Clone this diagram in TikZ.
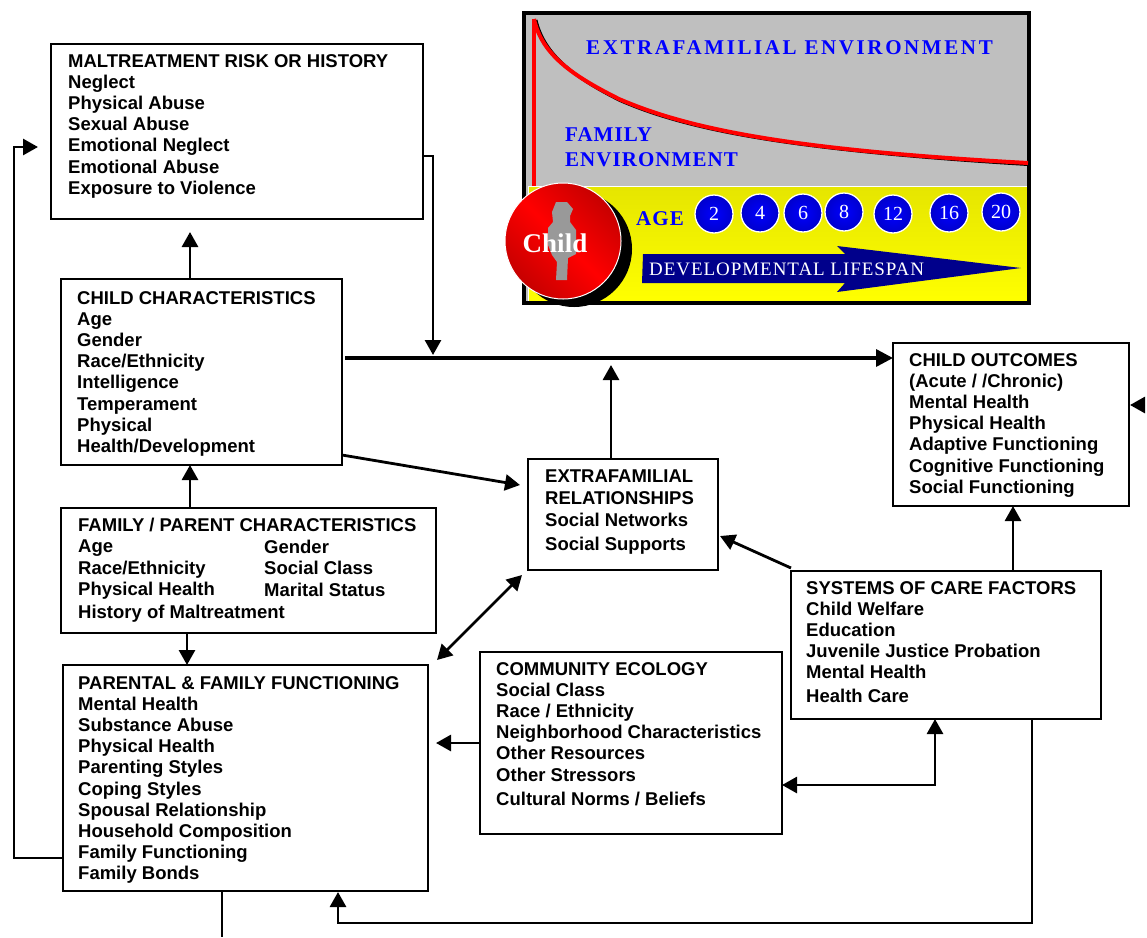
\documentclass[tikz,border=0pt]{standalone}
\usepackage{fontspec}
\setmainfont{Liberation Sans}
\newfontfamily\serA[LetterSpace=12.4]{Liberation Serif}
\newfontfamily\serB[LetterSpace=5]{Liberation Serif}
\newfontfamily\serC{Liberation Serif}
\usetikzlibrary{arrows.meta,calc}
\definecolor{panelgray}{HTML}{BFBFBF}
\definecolor{navy}{HTML}{00008B}
\tikzset{
 bx/.style={draw=black,line width=2.4pt,fill=white,anchor=north west,inner sep=0pt,outer sep=0pt},
 tx/.style={anchor=north west,inner sep=0pt,align=left,font=\fontsize{18.5}{21.2}\selectfont\bfseries},
 conn/.style={draw=black,line width=2.8pt},
 arr/.style={conn,-{Triangle[length=15pt,width=16pt]}},
 darr/.style={conn,{Triangle[length=15pt,width=16pt]}-{Triangle[length=15pt,width=16pt]}},
 agec/.style={circle,draw=white,line width=1.3pt,minimum size=38pt,inner sep=0pt,inner color=blue,outer color=blue!80!black,text=white,font=\fontsize{20}{20}\serC},
 bluet/.style={anchor=base west,inner sep=0pt,text=blue},
}
\begin{document}
\begin{tikzpicture}[x=1pt,y=-1pt]
\useasboundingbox (0,0) rectangle (1147,937);
\fill[white] (0,0) rectangle (1147,937);
% vertical guide positions for connectors
\coordinate (v14) at (14,0); \coordinate (v187) at (187,0); \coordinate (v190) at (190,0);
\coordinate (v222) at (222,0); \coordinate (v338) at (338,0); \coordinate (v433) at (433,0);
\coordinate (v611) at (611,0); \coordinate (v935) at (935,0); \coordinate (v1013) at (1013,0);
\coordinate (v1032) at (1032,0);
\coordinate (h147) at (0,147); \coordinate (h156) at (0,156); \coordinate (h358) at (0,358);
\coordinate (h455) at (0,455); \coordinate (h485) at (0,485); \coordinate (h536) at (0,536);
\coordinate (h568) at (0,568); \coordinate (h575) at (0,575); \coordinate (h743) at (0,743);
\coordinate (h785) at (0,785); \coordinate (h858) at (0,858); \coordinate (h923) at (0,923);
% boxes
\node[bx,minimum width=372pt,minimum height=175pt] (malt) at (51,44) {};
\node[bx,minimum width=281pt,minimum height=186pt] (child) at (61,279) {};
\node[bx,minimum width=375pt,minimum height=125pt] (fam) at (61,508) {};
\node[bx,minimum width=365pt,minimum height=226pt] (par) at (63,665) {};
\node[bx,minimum width=302pt,minimum height=182pt] (comm) at (480,652) {};
\node[bx,minimum width=310pt,minimum height=148pt] (sys) at (791,571) {};
\node[bx,minimum width=190pt,minimum height=111pt] (extra) at (528,459) {};
\node[bx,minimum width=236pt,minimum height=163pt] (out) at (893,343) {};
% box texts
\node[tx] (maltT) at (68,54) {MALTREATMENT RISK OR HISTORY\\Neglect\\Physical Abuse\\Sexual Abuse\\Emotional Neglect\\Emotional Abuse\\Exposure to Violence};
\node[tx] (childT) at (77,291) {CHILD CHARACTERISTICS\\Age\\Gender\\Race/Ethnicity\\Intelligence\\Temperament\\Physical\\Health/Development};
\node[tx] (famT) at (78,518) {FAMILY / PARENT CHARACTERISTICS};
\node[tx] (famA) at (78,540) {Age\\Race/Ethnicity\\Physical Health\\[2pt]History of Maltreatment};
\node[tx] (famB) at (264,540) {Gender\\Social Class\\Marital Status};
\node[tx] (parT) at (78,676) {PARENTAL \& FAMILY FUNCTIONING\\Mental Health\\Substance Abuse\\Physical Health\\Parenting Styles\\Coping Styles\\Spousal Relationship\\Household Composition\\Family Functioning\\Family Bonds};
\node[tx] (commT) at (496,662) {COMMUNITY ECOLOGY\\Social Class\\Race / Ethnicity\\Neighborhood Characteristics\\Other Resources\\Other Stressors\\[3.5pt]Cultural Norms / Beliefs};
\node[tx] (sysT) at (806,581) {SYSTEMS OF CARE FACTORS\\Child Welfare\\Education\\Juvenile Justice Probation\\Mental Health\\[2pt]Health Care};
\node[tx] (extraT) at (545,470) {EXTRAFAMILIAL\\RELATIONSHIPS\\[1.5pt]Social Networks\\[2.5pt]Social Supports};
\node[tx] (outT) at (909,353) {CHILD OUTCOMES\\(Acute / /Chronic)\\Mental Health\\Physical Health\\Adaptive Functioning\\Cognitive Functioning\\Social Functioning};
% connectors
\draw[arr,shorten >=13pt] (child.north -| v190) -- (malt.south -| v190);
\draw[arr] (fam.north -| v190) -- (child.south -| v190);
\draw[arr] (fam.south -| v187) -- (par.north -| v187);
\coordinate (tipL) at (38,147);
\draw[arr] (par.west |- h858) -- (v14 |- h858) -- (v14 |- h147) -- (tipL);
\coordinate (tipM) at (433,355);
\draw[arr] (malt.east |- h156) -- (v433 |- h156) -- (tipM);
\coordinate (mainS) at (345,358);
\draw[conn,line width=3.4pt,-{Triangle[length=17pt,width=17pt]}] (mainS) -- (out.west |- h358);
\coordinate (tipU) at (611,365);
\draw[arr] (extra.north -| v611) -- (tipU);
\coordinate (tipE) at (520,485);
\draw[arr] (child.east |- h455) -- (tipE);
\coordinate (dA) at (437,660); \coordinate (dB) at (522,575);
\draw[darr] (dA) -- (dB);
\coordinate (sA) at (791,568); \coordinate (sB) at (720,536);
\draw[arr] (sA) -- (sB);
\draw[arr] (sys.north -| v1013) -- (out.south -| v1013);
\coordinate (tipC) at (436,743);
\draw[arr] (comm.west |- h743) -- (tipC);
\draw[darr] (comm.east |- h785) -- (v935 |- h785) -- (sys.south -| v935);
\draw[arr,shorten >=1pt] (sys.south -| v1032) -- (v1032 |- h923) -- (v338 |- h923) -- (par.south -| v338);
\coordinate (stub) at (222,937);
\draw[conn] (par.south -| v222) -- (stub);
\coordinate (stubE) at (1145,405); \coordinate (stubT) at (1130,405);
\draw[arr] (stubE) -- (stubT);
% top panel
\fill[panelgray] (524,13) rectangle (1029,303);
\shade[top color=yellow!90!black,bottom color=yellow,draw=white,line width=.7pt] (528,186) rectangle (1028,302);
\draw[black,line width=4pt] (524,13) rectangle (1029,303);
\draw[black,line width=3pt] (536,20) .. controls (544,55) and (575,78) .. (620,100.5) .. controls (689,130.5) and (790,150) .. (1028,164.5);
\draw[red,line width=4pt] (534,186) -- (534,19);
\draw[red,line width=4pt] (534,19) .. controls (542,55) and (573,76) .. (619,99) .. controls (688,129) and (790,150) .. (1028,163);
\node[bluet,font=\fontsize{21}{21}\serA\bfseries] (extraEnv) at (586,54) {EXTRAFAMILIAL ENVIRONMENT};
\node[bluet,font=\fontsize{21}{21}\serB\bfseries,align=left] (famEnv) at (565,141) {FAMILY};
\node[bluet,font=\fontsize{21}{21}\serB\bfseries,align=left] (famEnv2) at (565,166) {ENVIRONMENT};
\node[bluet,font=\fontsize{21}{21}\serB\bfseries] (age) at (636,225) {AGE};
\node[agec] (a2) at (714,214) {2};
\node[agec] (a4) at (760,213) {4};
\node[agec] (a6) at (803,213) {6};
\node[agec] (a8) at (844,212) {8};
\node[agec] (a12) at (893,214) {12};
\node[agec] (a16) at (949,213) {16};
\node[agec] (a20) at (1001,212) {20};
% developmental arrow
\fill[navy] (643,254) -- (845,254) -- (837,246) -- (1021,268) -- (837,292) -- (845,283) -- (642,283) -- cycle;
\node[anchor=base west,inner sep=0pt,text=white,font=\fontsize{19}{19}\serB] (dev) at (649,275) {DEVELOPMENTAL LIFESPAN};
% child disc
\fill[black] (574,249) circle (58pt);
\shade[top color=red!78!black,bottom color=red!78!black,middle color=red,shading angle=-45,draw=white,line width=1pt] (563,241) circle (58pt);
\fill[black!40] (556,202) -- (567,202) -- (573,209) -- (570,216) -- (570,222) -- (576,230) -- (576,254) -- (568,258) -- (567,280) -- (556,280) -- (557,262) -- (552,255) -- (548,245) -- (548,228) -- (553,222) -- (552,212) -- cycle;
\node[anchor=base,inner sep=0pt,text=white,font=\fontsize{27}{27}\serC\bfseries] (childDisc) at (555,252) {Child};
\end{tikzpicture}
\end{document}
